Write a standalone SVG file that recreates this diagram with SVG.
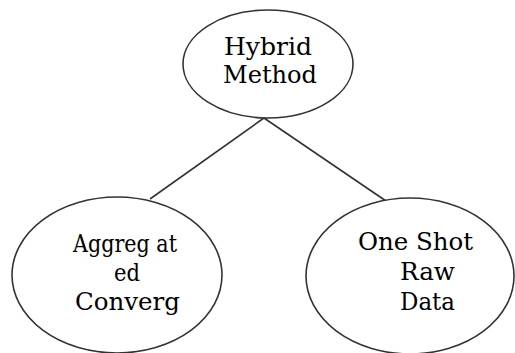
<svg xmlns="http://www.w3.org/2000/svg" width="515" height="353" viewBox="0 0 515 353">
<style>
.n{fill:#fff;stroke:#333;stroke-width:1.6}
.c{stroke:#333;stroke-width:1.6;fill:none}
.t{font-family:'DejaVu Serif',serif;font-size:24px;fill:#000}
</style>
<rect width="515" height="353" fill="#fff"/>
<g id="connectors">
<line class="c" x1="264" y1="118" x2="150" y2="199"/>
<line class="c" x1="264" y1="118" x2="386" y2="201"/>
</g>
<g id="hybrid">
<ellipse class="n" cx="268" cy="64" rx="85" ry="54"/>
<text class="t" x="224" y="55" textLength="88" lengthAdjust="spacingAndGlyphs">Hybrid</text>
<text class="t" x="223" y="83" textLength="94" lengthAdjust="spacingAndGlyphs">Method</text>
</g>
<g id="aggregated">
<ellipse class="n" cx="117" cy="275" rx="105" ry="78"/>
<text class="t" x="73" y="252" textLength="104" lengthAdjust="spacingAndGlyphs">Aggreg at</text>
<text class="t" x="114" y="281" textLength="26" lengthAdjust="spacingAndGlyphs">ed</text>
<text class="t" x="75" y="310" textLength="105" lengthAdjust="spacingAndGlyphs">Converg</text>
</g>
<g id="oneshot">
<ellipse class="n" cx="410" cy="276" rx="104" ry="78"/>
<text class="t" x="358" y="250" textLength="115" lengthAdjust="spacingAndGlyphs">One Shot</text>
<text class="t" x="400" y="280" textLength="55" lengthAdjust="spacingAndGlyphs">Raw</text>
<text class="t" x="400" y="310" textLength="55" lengthAdjust="spacingAndGlyphs">Data</text>
</g>
</svg>
